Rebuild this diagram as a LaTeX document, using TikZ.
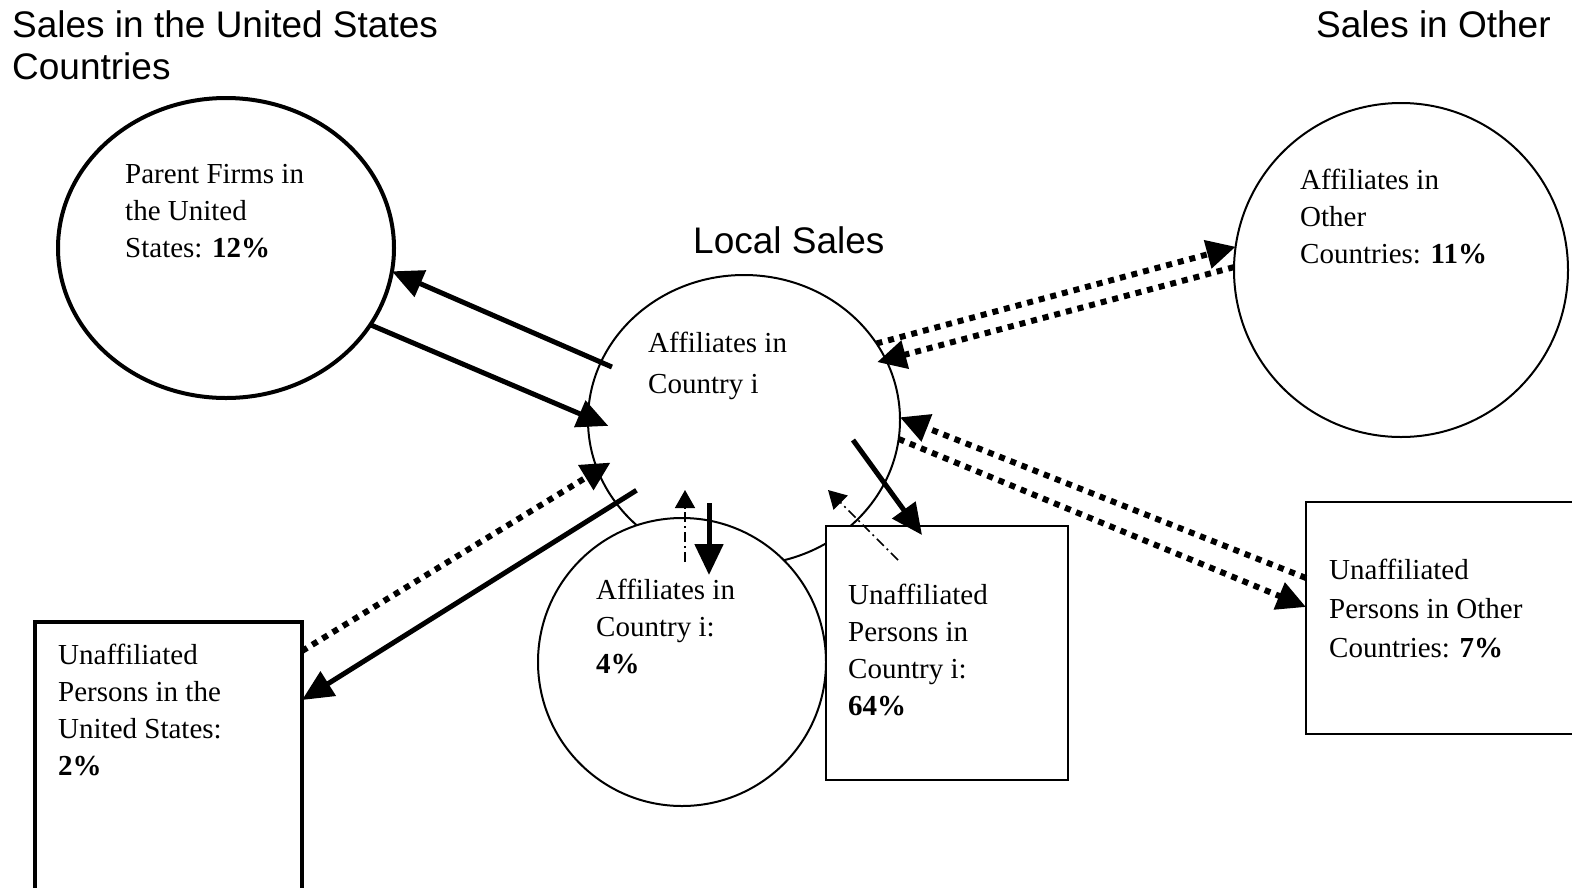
\documentclass[tikz,border=0pt]{standalone}
\usepackage{fontspec}
\setmainfont{Liberation Serif}
\newfontfamily\headfont{Liberation Sans}
\usetikzlibrary{shapes.geometric,arrows.meta,calc}

\begin{document}
\begin{tikzpicture}
  [x=1pt, y=-1pt,
   firm/.style={ellipse, draw=black, line width=2pt, inner sep=0pt, outer sep=0pt},
   market/.style={rectangle, draw=black, line width=2.5pt, fill=white, inner sep=0pt, outer sep=0pt},
   lbl/.style={anchor=base west, align=left, inner sep=0pt, font=\fontsize{29pt}{37pt}\selectfont},
   head/.style={anchor=base west, align=left, inner sep=0pt, font=\headfont\fontsize{37pt}{42pt}\selectfont},
   flow/.style={line width=5pt, -{Triangle[length=31pt,width=28pt]}},
   flowdot/.style={line width=6pt, dash pattern=on 6pt off 6pt, -{Triangle[length=29pt,width=28pt]}},
   flowdash/.style={line width=1.5pt, dash pattern=on 10pt off 4pt on 2pt off 4pt, -{Triangle[length=18pt,width=20pt]}}]

  \useasboundingbox (0,0) rectangle (1572,887);

  % text nodes sit on the baseline of their last line
  \node[head] (ushead) at (12,79) {Sales in the United States\\Countries};
  \node[head] (otherhead) at (1316,37) {Sales in Other};
  \node[head] (local) at (693,253) {Local Sales};

  \node[firm, line width=4pt, minimum width=336pt, minimum height=300pt] (parent) at (226,248) {};
  \node[firm, minimum width=312pt, minimum height=290pt] (aff) at (744,420) {};
  \node[firm, fill=white, minimum width=288pt, minimum height=288pt] (affi) at (682,662) {};
  \node[firm, minimum width=334pt, minimum height=334pt] (other) at (1401,270) {};
  \node[market, minimum width=242pt, minimum height=254pt] (unci) at (947,653) {};
  \node[market, line width=2pt, minimum width=274pt, minimum height=232pt] (unoth) at (1443,618) {};
  \node[market, line width=4pt, minimum width=267pt, minimum height=273pt] (unus) at (168.5,758.5) {};

  \node[lbl] (parent-txt) at (125,257) {Parent Firms in\\the United\\States: \textbf{12\%}};
  \node[lbl, font=\fontsize{29pt}{41pt}\selectfont] (aff-txt) at (648,393) {Affiliates in\\Country i};
  \node[lbl] (affi-txt) at (596,673) {Affiliates in\\Country i:\\\textbf{4\%}};
  \node[lbl] (unci-txt) at (848,715) {Unaffiliated\\Persons in\\Country i:\\\textbf{64\%}};
  \node[lbl] (other-txt) at (1300,263) {Affiliates in\\Other\\Countries: \textbf{11\%}};
  \node[lbl, font=\fontsize{29pt}{39pt}\selectfont] (unoth-txt) at (1329,657) {Unaffiliated\\Persons in Other\\Countries: \textbf{7\%}};
  \node[lbl] (unus-txt) at (58,775) {Unaffiliated\\Persons in the\\United States:\\\textbf{2\%}};

  \draw[flow, shorten <=-12pt] (aff.158) -- (parent.-8);
  \draw[flow, shorten >=-22pt] (parent.-28) -- (aff.179);
  \draw[flowdot, shorten >=-15pt] ($(unus.north east)+(0,29)$) -- (aff.199);
  \draw[flow, shorten <=-24pt] (aff.213) -- ($(unus.north east)+(0,78)$);
  \draw[flowdash] ($(affi.north)+(3,44)$) -- ($(affi.north)+(3,-28)$);
  \draw[flow] ($(affi.north)+(27,-15)$) -- ($(affi.north)+(27,57)$);
  \draw[flowdash] ($(unci.north west)+(72,34)$) -- ($(unci.north west)+(2,-36)$);
  \draw[flow] ($(unci.north west)+(27,-86)$) -- ($(unci.north west)+(96,9)$);
  \draw[flowdot] (aff.30) -- (other.172.5);
  \draw[flowdot, shorten >=-9pt] (other.179) -- (aff.23);
  \draw[flowdot] ($(unoth.north west)+(0,76)$) -- (aff.1);
  \draw[flowdot] (aff.-7) -- ($(unoth.north west)+(0,105)$);
\end{tikzpicture}
\end{document}
